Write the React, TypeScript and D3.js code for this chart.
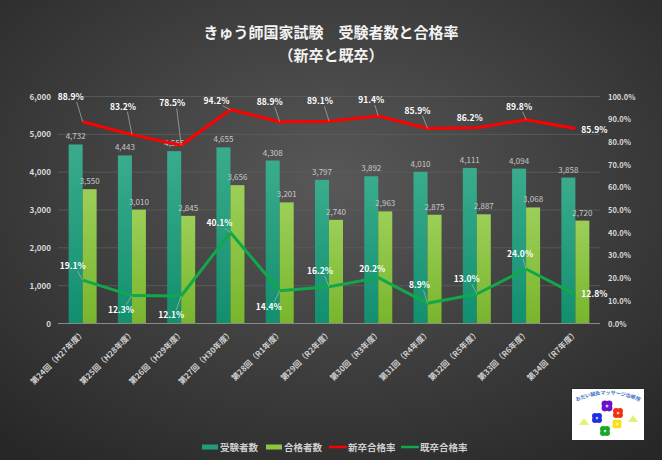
import { useEffect, useRef } from 'react';
import * as d3 from 'd3';

const editions = [
  '第24回（H27年度）', '第25回（H28年度）', '第26回（H29年度）', '第27回（H30年度）',
  '第28回（R1年度）', '第29回（R2年度）', '第30回（R3年度）', '第31回（R4年度）',
  '第32回（R5年度）', '第33回（R6年度）', '第34回（R7年度）',
];
const examinees = [4732, 4443, 4555, 4655, 4308, 3797, 3892, 4010, 4111, 4094, 3858];
const passers = [3550, 3010, 2845, 3656, 3201, 2740, 2963, 2875, 2887, 3068, 2720];
const newGradRate = [88.9, 83.2, 78.5, 94.2, 88.9, 89.1, 91.4, 85.9, 86.2, 89.8, 85.9];
const repeaterRate = [19.1, 12.3, 12.1, 40.1, 14.4, 16.2, 20.2, 8.9, 13.0, 24.0, 12.8];
const countTicks = [0, 1000, 2000, 3000, 4000, 5000, 6000];
const rateTicks = [0, 10, 20, 30, 40, 50, 60, 70, 80, 90, 100];

// where each percentage label sits relative to its point
const newGradLabelOffsets = [
  [-12, -25], [-9, -28], [-9, -42], [-14, -9], [-10, -20], [-9, -20],
  [-7, -16], [-10, -18], [-7, -10], [-7, -13], [19, 1],
];
const repeaterLabelOffsets = [
  [-10, -14], [-11, 14], [-10, 19], [-11, -9], [-11, 16], [-9, -16],
  [-6, -9], [-8, -18], [-10, -15], [-6, -15], [19, 0],
];

const FONT = '"Noto Sans CJK JP", "Noto Sans", sans-serif';

export default function App() {
  const svgRef = useRef<SVGSVGElement>(null);

  useEffect(() => {
    if (!svgRef.current) return;
    const svg = d3.select(svgRef.current);
    svg.selectAll('*').remove();

    const W = 662;
    const H = 460;
    const left = 58;
    const right = 600;
    const top = 96.5;
    const bottom = 323.5;

    const defs = svg.append('defs');
    const bg = defs.append('radialGradient').attr('id', 'bg')
      .attr('cx', '50%').attr('cy', '40%').attr('r', '75%');
    bg.append('stop').attr('offset', '0%').attr('stop-color', '#585858');
    bg.append('stop').attr('offset', '100%').attr('stop-color', '#272727');

    const mkGrad = (id: string, c1: string, c2: string) => {
      const g = defs.append('linearGradient').attr('id', id)
        .attr('x1', 0).attr('y1', 0).attr('x2', 0).attr('y2', 1);
      g.append('stop').attr('offset', '0%').attr('stop-color', c1);
      g.append('stop').attr('offset', '100%').attr('stop-color', c2);
    };
    mkGrad('teal', '#3aac8d', '#118f6f');
    mkGrad('lime', '#9ccf58', '#78b52c');

    svg.append('rect').attr('width', W).attr('height', H).attr('fill', 'url(#bg)');

    // Title
    svg.append('text')
      .attr('x', W / 2).attr('y', 38)
      .attr('text-anchor', 'middle')
      .attr('fill', '#f2f2f2')
      .style('font-family', FONT).style('font-size', '15px').style('font-weight', 700)
      .text('きゅう師国家試験　受験者数と合格率');
    svg.append('text')
      .attr('x', W / 2).attr('y', 61)
      .attr('text-anchor', 'middle')
      .attr('fill', '#f2f2f2')
      .style('font-family', FONT).style('font-size', '15px').style('font-weight', 700)
      .text('（新卒と既卒）');

    // Scales
    const x0 = d3.scaleBand<string>().domain(editions).range([left, right]).padding(0);
    const x1 = d3.scaleBand<string>().domain(['exam', 'pass'])
      .range([0, x0.bandwidth()]).paddingInner(0).paddingOuter(0.76);
    const yCount = d3.scaleLinear().domain([0, 6000]).range([bottom, top]);
    const yRate = d3.scaleLinear().domain([0, 100]).range([bottom, top]);
    const cx = (i: number) => (x0(editions[i]) || 0) + x0.bandwidth() / 2;

    // Gridlines
    svg.append('g').selectAll('line')
      .data(countTicks.filter(t => t > 0))
      .enter().append('line')
      .attr('x1', left).attr('x2', right)
      .attr('y1', d => yCount(d)).attr('y2', d => yCount(d))
      .attr('stroke', '#5e5e5e').attr('stroke-width', 0.8);

    // Left axis labels
    svg.append('g').selectAll('text')
      .data(countTicks)
      .enter().append('text')
      .attr('x', 51).attr('y', d => yCount(d) + 3)
      .attr('text-anchor', 'end')
      .attr('fill', '#d9d9d9')
      .style('font-family', FONT).style('font-size', '8px').style('font-weight', 700)
      .text(d => d3.format(',')(d));

    // Right axis labels
    svg.append('g').selectAll('text')
      .data(rateTicks)
      .enter().append('text')
      .attr('x', 608).attr('y', d => yRate(d) + 3)
      .attr('fill', '#d9d9d9')
      .style('font-family', FONT).style('font-size', '7.5px').style('font-weight', 700)
      .text(d => `${d.toFixed(1)}%`);

    // Bars
    const groups = svg.append('g').selectAll('g')
      .data(editions)
      .enter().append('g')
      .attr('transform', d => `translate(${x0(d)},0)`);

    groups.append('rect')
      .attr('x', x1('exam') || 0)
      .attr('y', (_, i) => yCount(examinees[i]))
      .attr('width', x1.bandwidth())
      .attr('height', (_, i) => bottom - yCount(examinees[i]))
      .attr('fill', 'url(#teal)');
    groups.append('rect')
      .attr('x', x1('pass') || 0)
      .attr('y', (_, i) => yCount(passers[i]))
      .attr('width', x1.bandwidth())
      .attr('height', (_, i) => bottom - yCount(passers[i]))
      .attr('fill', 'url(#lime)');

    // Bar value labels
    groups.append('text')
      .attr('x', (x1('exam') || 0) + x1.bandwidth() / 2)
      .attr('y', (_, i) => yCount(examinees[i]) - 5)
      .attr('text-anchor', 'middle')
      .attr('fill', '#c8c8c8')
      .style('font-family', FONT).style('font-size', '8px')
      .text((_, i) => d3.format(',')(examinees[i]));
    groups.append('text')
      .attr('x', (x1('pass') || 0) + x1.bandwidth() / 2)
      .attr('y', (_, i) => yCount(passers[i]) - 5)
      .attr('text-anchor', 'middle')
      .attr('fill', '#c8c8c8')
      .style('font-family', FONT).style('font-size', '8px')
      .text((_, i) => d3.format(',')(passers[i]));

    // Axis baseline
    svg.append('line')
      .attr('x1', left).attr('x2', right)
      .attr('y1', bottom).attr('y2', bottom)
      .attr('stroke', '#8a8a8a').attr('stroke-width', 1.2);

    // Category labels, rotated
    svg.append('g').selectAll('text')
      .data(editions)
      .enter().append('text')
      .attr('transform', (_, i) => `translate(${cx(i) + 3},${bottom + 10}) rotate(-45)`)
      .attr('text-anchor', 'end')
      .attr('fill', '#cfcfcf')
      .style('font-family', FONT).style('font-size', '8px').style('font-weight', 700)
      .text(d => d);

    // Rate lines with labels
    const drawRate = (values: number[], offsets: number[][], color: string) => {
      const line = d3.line<number>()
        .x((_, i) => cx(i))
        .y(d => yRate(d));
      svg.append('path')
        .datum(values)
        .attr('d', line)
        .attr('fill', 'none')
        .attr('stroke', color)
        .attr('stroke-width', 3)
        .attr('stroke-linejoin', 'round');

      values.forEach((v, i) => {
        const px = cx(i);
        const py = yRate(v);
        const [dx, dy] = offsets[i];
        const lx = px + dx;
        const ly = py + dy;
        if (Math.hypot(dx, dy) > 14 && Math.abs(dx) < 15) {
          const sy = dy < 0 ? ly + 5 : ly - 5;
          const sx = lx + Math.max(-6, Math.min(6, -dx * 0.5));
          svg.append('line')
            .attr('x1', sx).attr('y1', sy)
            .attr('x2', px).attr('y2', py)
            .attr('stroke', '#b0b0b0').attr('stroke-width', 0.7);
        }
        svg.append('text')
          .attr('x', lx).attr('y', ly + 3)
          .attr('text-anchor', 'middle')
          .attr('fill', '#ffffff')
          .style('font-family', FONT).style('font-size', '8.5px').style('font-weight', 700)
          .text(`${v.toFixed(1)}%`);
      });
    };
    drawRate(newGradRate, newGradLabelOffsets, '#ff0000');
    drawRate(repeaterRate, repeaterLabelOffsets, '#10a84a');

    // Legend
    const legendItems = [
      { label: '受験者数', color: '#1f9d7c', kind: 'bar', x: 202 },
      { label: '合格者数', color: '#8cc540', kind: 'bar', x: 266 },
      { label: '新卒合格率', color: '#ff0000', kind: 'line', x: 329 },
      { label: '既卒合格率', color: '#10a84a', kind: 'line', x: 401 },
    ];
    const legend = svg.append('g').attr('transform', 'translate(0,447)');
    legendItems.forEach(item => {
      if (item.kind === 'bar') {
        legend.append('rect')
          .attr('x', item.x).attr('y', -2.5).attr('width', 16).attr('height', 5)
          .attr('fill', item.color);
      } else {
        legend.append('line')
          .attr('x1', item.x).attr('x2', item.x + 18)
          .attr('y1', 0).attr('y2', 0)
          .attr('stroke', item.color).attr('stroke-width', 2.5);
      }
      legend.append('text')
        .attr('x', item.x + (item.kind === 'bar' ? 18 : 19)).attr('y', 3.5)
        .attr('fill', '#d0d0d0')
        .style('font-family', FONT).style('font-size', '9.5px').style('font-weight', 700)
        .text(item.label);
    });

    // Clinic logo
    const logo = svg.append('g').attr('transform', 'translate(572,389)');
    logo.append('rect').attr('x', -1).attr('y', -1).attr('width', 74).attr('height', 53)
      .attr('fill', '#2a2a2a');
    logo.append('rect').attr('width', 72).attr('height', 51).attr('fill', '#ffffff');
    defs.append('path').attr('id', 'logoArc')
      .attr('d', 'M3,13 Q36,-2 69,13');
    logo.append('text')
      .attr('fill', '#2f6fc0')
      .style('font-family', FONT).style('font-size', '5px').style('font-weight', 700)
      .append('textPath')
      .attr('href', '#logoArc')
      .attr('startOffset', '50%')
      .attr('text-anchor', 'middle')
      .text('おだい鍼灸マッサージ治療院');
    const flowers = [
      { x: 35, y: 17, r: 6, c: '#6a12c8' },
      { x: 46, y: 24, r: 5.5, c: '#f03010' },
      { x: 25, y: 29, r: 5.5, c: '#1c2ee0' },
      { x: 45, y: 35, r: 5, c: '#f5e21a' },
      { x: 33, y: 42, r: 5.5, c: '#18a828' },
    ];
    flowers.forEach(f => {
      const fg = logo.append('g').attr('transform', `translate(${f.x},${f.y})`);
      [0, 90, 180, 270].forEach(a => {
        const rad = ((a + 45) * Math.PI) / 180;
        fg.append('circle')
          .attr('cx', Math.cos(rad) * f.r * 0.5).attr('cy', Math.sin(rad) * f.r * 0.5)
          .attr('r', f.r * 0.55).attr('fill', f.c);
      });
      fg.append('circle').attr('r', f.r * 0.25).attr('fill', '#ffffff').attr('opacity', 0.7);
    });
    [[12, 33], [61, 30]].forEach(([lx, ly]) => {
      logo.append('path')
        .attr('d', `M${lx - 5},${ly + 3} L${lx},${ly - 4} L${lx + 5},${ly + 3} Z`)
        .attr('fill', '#e6ef7a');
    });
  }, []);

  return (
    <svg
      ref={svgRef}
      width={662}
      height={460}
      style={{ position: 'absolute', left: 0, top: 0, display: 'block' }}
    />
  );
}
